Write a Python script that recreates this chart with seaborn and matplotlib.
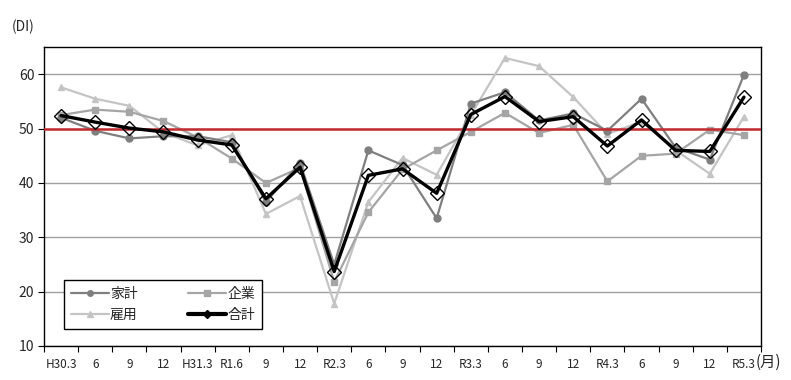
import numpy as np
import pandas as pd
import seaborn as sns
import matplotlib.pyplot as plt

# x-axis categories (quarterly survey points)
periods = ['H30.3', '6', '9', '12', 'H31.3', 'R1.6', '9', '12', 'R2.3', '6', '9',
           '12', 'R3.3', '6', '9', '12', 'R4.3', '6', '9', '12', 'R5.3']

kakei = [52.0, 49.6, 48.2, 48.6, 48.6, 47.5, 36.5, 43.7, 25.0, 46.0, 43.3,
         33.5, 54.6, 56.7, 51.5, 52.8, 49.6, 55.5, 46.5, 44.3, 59.9]
kigyo = [52.5, 53.5, 53.1, 51.4, 48.4, 44.5, 40.0, 42.8, 21.8, 34.6, 42.5,
         46.0, 49.4, 52.9, 49.2, 50.7, 40.3, 45.0, 45.4, 49.8, 48.8]
koyo = [57.6, 55.5, 54.2, 49.3, 46.9, 48.8, 34.3, 37.6, 17.8, 36.5, 44.6,
        41.5, 52.5, 63.0, 61.5, 55.8, 49.0, 51.3, 46.0, 41.7, 52.2]
gokei = [52.4, 51.2, 50.1, 49.4, 47.9, 47.0, 37.1, 42.9, 23.7, 41.4, 42.6,
         38.1, 52.6, 55.9, 51.3, 52.2, 46.8, 51.6, 46.0, 45.8, 55.8]

baseline = 50

series_names = ['家計', '企業', '雇用', '合計']
series_vals = [kakei, kigyo, koyo, gokei]

pos = np.arange(len(periods))
df = pd.DataFrame({
    'pos': np.tile(pos, len(series_names)),
    'DI': list(np.concatenate(series_vals)),
    'series': np.repeat(series_names, len(periods)),
})

sns.set_style('white')
plt.rcParams['font.family'] = ['Noto Sans CJK JP', 'DejaVu Sans']

fig = plt.figure(figsize=(7.91, 3.80), dpi=100)
ax = fig.add_axes([0.0556, 0.0895, 0.9065, 0.7865])

styles = {
    '家計': dict(color='#7f7f7f', marker='o', ms=5, lw=1.6, mfc='#7f7f7f', mec='#7f7f7f', z=2),
    '企業': dict(color='#a5a5a5', marker='s', ms=5, lw=1.6, mfc='#a5a5a5', mec='#a5a5a5', z=2),
    '雇用': dict(color='#c4c4c4', marker='^', ms=5, lw=1.6, mfc='#c4c4c4', mec='#c4c4c4', z=2),
    '合計': dict(color='black', marker='D', ms=7, lw=2.4, mfc='none', mec='black', z=4),
}

for name in ['雇用', '企業', '家計', '合計']:
    st = styles[name]
    sns.lineplot(data=df[df['series'] == name], x='pos', y='DI', ax=ax,
                 color=st['color'], lw=st['lw'], marker=st['marker'],
                 markersize=st['ms'], markerfacecolor=st['mfc'],
                 markeredgecolor=st['mec'], markeredgewidth=1.0,
                 zorder=st['z'], label=name)

ax.axhline(baseline, color='#c42a30', lw=1.8, zorder=3)

ax.set_xlim(-0.5, len(periods) - 0.5)
ax.set_ylim(10, 65)
ax.set_yticks([10, 20, 30, 40, 50, 60])
ax.yaxis.grid(True, color='#a0a0a0', lw=1.0, zorder=0)
ax.set_axisbelow(True)

ax.set_xticks(pos)
ax.set_xticklabels(periods, fontsize=8.5)
ax.set_xticks(np.arange(-0.5, len(periods)), minor=True)
ax.tick_params(axis='x', which='major', length=0, pad=9)
ax.tick_params(axis='x', which='minor', length=4, width=0.8, direction='out', color='black')
ax.tick_params(axis='y', length=4, width=0.8, direction='out', color='black', labelsize=10, pad=3)
ax.tick_params(left=True, bottom=True, which='both')

for s in ax.spines.values():
    s.set_color('black')
    s.set_linewidth(1.0)

ax.set_xlabel('')
ax.set_ylabel('')

fig.text(12 / 791, 1 - 27 / 380, '(DI)', fontsize=10, va='center', ha='left')
fig.text(756 / 791, 1 - 362 / 380, '(月)', fontsize=11, va='center', ha='left')

# legend rows: 家計 企業 / 雇用 合計 (matplotlib fills column-wise)
handles, labels = ax.get_legend_handles_labels()
legend_order = ['家計', '雇用', '企業', '合計']
idx = [labels.index(n) for n in legend_order]
leg = ax.legend([handles[i] for i in idx], [labels[i] for i in idx],
                ncol=2, loc='lower left', bbox_to_anchor=(0.028, 0.057, 0.276, 0.174),
                mode='expand', borderaxespad=0, frameon=True, fancybox=False,
                edgecolor='black', framealpha=1, fontsize=10, handlelength=2.7,
                handletextpad=0.1, labelspacing=0.5, borderpad=0.5, columnspacing=1.0)
leg.get_frame().set_linewidth(1.0)
leg.set_zorder(5)
for h in leg.legend_handles:
    h.set_markersize(4)
    if h.get_color() == 'black':
        h.set_markerfacecolor('black')
        h.set_linewidth(3)

fig.savefig('out.png', dpi=100)
